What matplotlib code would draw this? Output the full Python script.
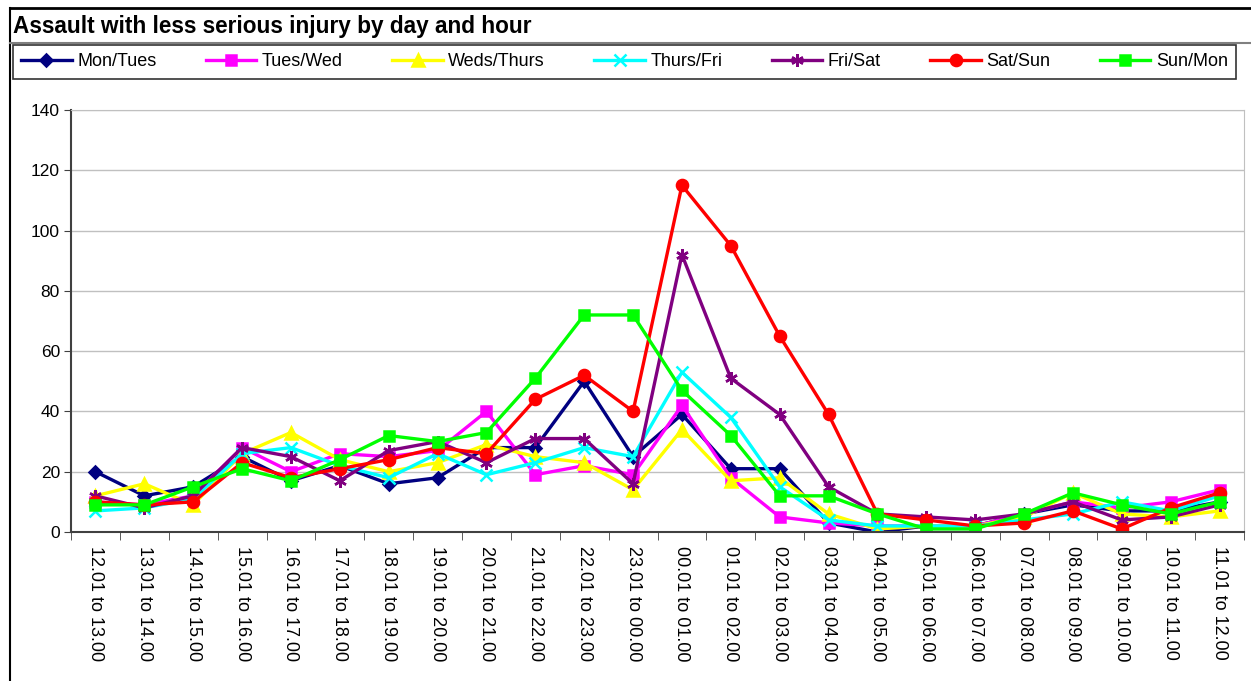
import matplotlib.pyplot as plt
from matplotlib.lines import Line2D
import numpy as np

plt.rcParams['font.family'] = ['Liberation Sans', 'DejaVu Sans']

hours = ['12.01 to 13.00', '13.01 to 14.00', '14.01 to 15.00', '15.01 to 16.00',
         '16.01 to 17.00', '17.01 to 18.00', '18.01 to 19.00', '19.01 to 20.00',
         '20.01 to 21.00', '21.01 to 22.00', '22.01 to 23.00', '23.01 to 00.00',
         '00.01 to 01.00', '01.01 to 02.00', '02.01 to 03.00', '03.01 to 04.00',
         '04.01 to 05.00', '05.01 to 06.00', '06.01 to 07.00', '07.01 to 08.00',
         '08.01 to 09.00', '09.01 to 10.00', '10.01 to 11.00', '11.01 to 12.00']

mon_tues = [20, 12, 15, 25, 17, 22, 16, 18, 28, 28, 50, 25, 39, 21, 21, 3, 0, 2, 2, 6, 9, 7, 7, 10]
tues_wed = [10, 9, 12, 28, 20, 26, 25, 27, 40, 19, 22, 19, 42, 18, 5, 3, 2, 2, 2, 6, 10, 8, 10, 14]
weds_thurs = [12, 16, 9, 26, 33, 24, 20, 23, 29, 25, 23, 14, 34, 17, 18, 6, 1, 2, 2, 5, 13, 6, 5, 7]
thurs_fri = [7, 8, 11, 26, 28, 22, 18, 26, 19, 23, 28, 25, 53, 38, 15, 4, 2, 2, 2, 4, 6, 10, 7, 12]
fri_sat = [12, 8, 12, 28, 25, 17, 27, 30, 23, 31, 31, 16, 92, 51, 39, 15, 6, 5, 4, 6, 10, 4, 5, 9]
sat_sun = [10, 9, 10, 23, 18, 21, 24, 28, 26, 44, 52, 40, 115, 95, 65, 39, 6, 4, 2, 3, 7, 1, 8, 13]
sun_mon = [9, 9, 15, 21, 17, 24, 32, 30, 33, 51, 72, 72, 47, 32, 12, 12, 6, 1, 1, 6, 13, 9, 6, 10]

series = [
    ('Mon/Tues', mon_tues, '#000080', 'D', 6),
    ('Tues/Wed', tues_wed, '#FF00FF', 's', 7),
    ('Weds/Thurs', weds_thurs, '#FFFF00', '^', 8),
    ('Thurs/Fri', thurs_fri, '#00FFFF', 'x', 8),
    ('Fri/Sat', fri_sat, '#800080', (6, 2, 0), 9),
    ('Sat/Sun', sat_sun, '#FF0000', 'o', 8),
    ('Sun/Mon', sun_mon, '#00FF00', 's', 7),
]

fig = plt.figure(figsize=(12.51, 6.81), dpi=100)
ax = fig.add_axes([71 / 1251, 1 - 532 / 681, (1244 - 71) / 1251, (532 - 110) / 681])

x = np.arange(len(hours))
for name, vals, col, mk, ms in series:
    ax.plot(x, vals, color=col, lw=2.4, marker=mk, markersize=ms,
            markeredgewidth=1.8, label=name)

ax.set_xlim(-0.5, len(hours) - 0.5)
ax.set_ylim(0, 140)
ax.set_yticks(range(0, 141, 20))
ax.grid(axis='y', color='#c0c0c0', lw=1)
ax.set_axisbelow(True)
ax.set_xticks(x)
ax.set_xticklabels(hours, rotation=270, fontsize=13, va='top', ha='center')
ax.set_xticks(np.arange(-0.5, len(hours), 1), minor=True)
ax.tick_params(axis='x', which='major', length=0, pad=10)
ax.tick_params(axis='x', which='minor', length=6, direction='out', color='#404040')
ax.tick_params(axis='y', length=5, direction='out', color='#404040', labelsize=12.5, pad=3)
for s in ['left', 'bottom']:
    ax.spines[s].set_color('#404040')
    ax.spines[s].set_linewidth(1.5)
for s in ['top', 'right']:
    ax.spines[s].set_color('#c0c0c0')

fig.text(13 / 1251, 1 - 26 / 681, 'Assault with less serious injury by day and hour',
         fontsize=16.3, fontweight='bold', va='center', ha='left')

leg = fig.legend(loc='center left', ncol=7, mode='expand',
                 bbox_to_anchor=(13 / 1251, 1 - 81 / 681, (1236 - 13) / 1251, 38 / 681),
                 fontsize=13, frameon=True, fancybox=False, handlelength=2.8,
                 borderaxespad=0, borderpad=0.45, handletextpad=0.3)
leg.get_frame().set_edgecolor('black')
leg.get_frame().set_linewidth(1.2)

# chart frame lines
fig.add_artist(Line2D([10 / 1251, 1], [1 - 8 / 681, 1 - 8 / 681], color='black', lw=2,
                      transform=fig.transFigure))
fig.add_artist(Line2D([10 / 1251, 10 / 1251], [0, 1 - 8 / 681], color='black', lw=1.5,
                      transform=fig.transFigure))
fig.add_artist(Line2D([10 / 1251, 1], [1 - 43 / 681, 1 - 43 / 681], color='#808080', lw=1.5,
                      transform=fig.transFigure))

fig.savefig('out.png', dpi=100, facecolor='white')
